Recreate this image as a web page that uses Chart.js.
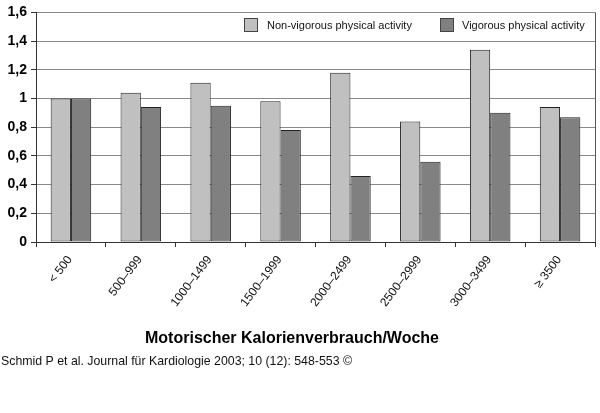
<!DOCTYPE html>
<html>
<head>
<meta charset="utf-8">
<script src="https://cdn.jsdelivr.net/npm/chart.js@4.4.0/dist/chart.umd.min.js"></script>
<style>
  html, body { margin: 0; padding: 0; background: #fff; }
  #wrap { width: 600px; height: 413px; }
</style>
</head>
<body>
<div id="wrap"><canvas id="kcalChart" width="600" height="413"></canvas></div>
<script>
// Chart data
const categories = ['< 500', '500–999', '1000–1499', '1500–1999', '2000–2499', '2500–2999', '3000–3499', '≥ 3500'];
const nonVigorous = [1.00, 1.04, 1.11, 0.98, 1.18, 0.84, 1.34, 0.94];
const vigorous = [1.00, 0.94, 0.95, 0.78, 0.46, 0.56, 0.90, 0.87];
const yTicks = [0, 0.2, 0.4, 0.6, 0.8, 1, 1.2, 1.4, 1.6];
const seriesLabels = ['Non-vigorous physical activity', 'Vigorous physical activity'];
const xTitle = 'Motorischer Kalorienverbrauch/Woche';
const source = 'Schmid P et al. Journal für Kardiologie 2003; 10 (12): 548-553 ©';

const FONT = "'Liberation Sans', Arial, sans-serif";

// legend, right border, axis title and source line
const extrasPlugin = {
    id: 'extras',
    afterDraw(chart) {
        const ctx = chart.ctx;
        const area = chart.chartArea;
        ctx.save();

        // right border of plot
        ctx.strokeStyle = '#555';
        ctx.lineWidth = 1;
        ctx.beginPath();
        ctx.moveTo(area.right + 0.5, area.top);
        ctx.lineTo(area.right + 0.5, area.bottom);
        ctx.stroke();

        // legend items
        const items = [
            { x: 244, textX: 267 },
            { x: 440, textX: 462 }
        ];
        ctx.font = '11px ' + FONT;
        ctx.textBaseline = 'middle';
        ctx.textAlign = 'left';
        chart.data.datasets.forEach((ds, i) => {
            const it = items[i];
            ctx.fillStyle = ds.backgroundColor;
            ctx.fillRect(it.x + 0.5, 18.5, 13, 13);
            ctx.strokeStyle = '#444';
            ctx.strokeRect(it.x + 0.5, 18.5, 13, 13);
            ctx.fillStyle = '#111';
            ctx.fillText(ds.label, it.textX, 25.5);
        });

        // axis title
        ctx.font = 'bold 16px ' + FONT;
        ctx.textAlign = 'center';
        ctx.textBaseline = 'alphabetic';
        ctx.fillStyle = '#000';
        ctx.fillText(xTitle, 292, 343, 312);

        // source line
        ctx.font = '13px ' + FONT;
        ctx.textAlign = 'left';
        ctx.fillStyle = '#111';
        ctx.fillText(source, 1, 365, 351);

        ctx.restore();
    }
};

function initChart() {
    const ctx = document.getElementById('kcalChart').getContext('2d');

    const data = {
        labels: categories,
        datasets: [{
            label: seriesLabels[0],
            data: nonVigorous,
            backgroundColor: '#c0c0c0',
            borderColor: '#222',
            borderWidth: 1,
            borderSkipped: false
        }, {
            label: seriesLabels[1],
            data: vigorous,
            backgroundColor: '#808080',
            borderColor: '#222',
            borderWidth: 1,
            borderSkipped: false
        }]
    };

    const config = {
        type: 'bar',
        data: data,
        options: {
            responsive: false,
            animation: false,
            devicePixelRatio: 1,
            categoryPercentage: 0.58,
            barPercentage: 1,
            layout: {
                padding: { top: 11, right: 5, left: 0, bottom: 0 }
            },
            plugins: {
                legend: { display: false },
                tooltip: { enabled: false }
            },
            scales: {
                y: {
                    min: 0,
                    max: 1.6,
                    afterFit: function(scale) { scale.width = 36; },
                    afterBuildTicks: function(scale) {
                        scale.ticks = yTicks.map(v => ({ value: v }));
                    },
                    border: { color: '#333', width: 1 },
                    grid: {
                        color: '#8a8a8a',
                        tickColor: '#333',
                        tickLength: 5
                    },
                    ticks: {
                        padding: 4,
                        color: '#000',
                        font: { family: FONT, size: 14, weight: 'bold' },
                        callback: function(value) {
                            return String(Number(value.toFixed(1))).replace('.', ',');
                        }
                    }
                },
                x: {
                    afterFit: function(scale) { scale.height = 171; },
                    border: { color: '#333', width: 1 },
                    grid: {
                        drawOnChartArea: false,
                        tickColor: '#333',
                        tickLength: 5
                    },
                    ticks: {
                        minRotation: 53,
                        maxRotation: 53,
                        padding: 6,
                        labelOffset: -1,
                        color: '#111',
                        font: { family: FONT, size: 12 }
                    }
                }
            }
        },
        plugins: [extrasPlugin]
    };

    new Chart(ctx, config);
}

document.addEventListener('DOMContentLoaded', function() {
    initChart();
});
</script>
</body>
</html>
